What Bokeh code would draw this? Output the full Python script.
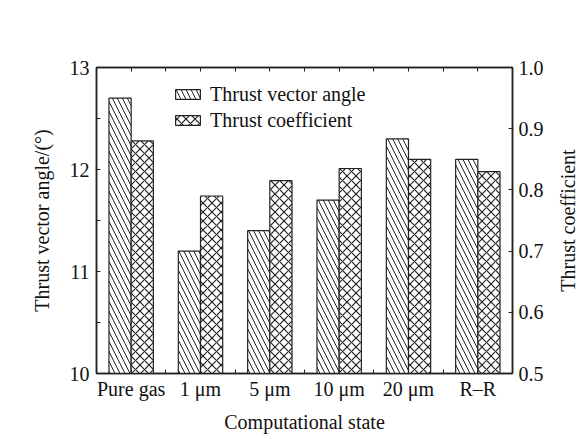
from bokeh.plotting import figure
from bokeh.layouts import row
from bokeh.models import (Range1d, LinearAxis, FixedTicker, NumeralTickFormatter,
                          ColumnDataSource, Legend, LegendItem)
from bokeh.transform import dodge
from bokeh.embed import file_html
from bokeh.resources import INLINE
import numpy as np

categories = ["Pure gas", "1 μm", "5 μm", "10 μm", "20 μm", "R–R"]
thrust_vector_angle = [12.7, 11.2, 11.4, 11.7, 12.3, 12.1]
thrust_coefficient = [0.88, 0.79, 0.815, 0.835, 0.85, 0.83]
left_ticks = [10, 11, 12, 13]
left_minor = [10.5, 11.5, 12.5]
right_ticks = [0.5, 0.6, 0.7, 0.8, 0.9, 1.0]

FONT = "Liberation Serif"
FS = "20px"

x = np.arange(len(categories)) + 0.5
src = ColumnDataSource(dict(x=x, angle=thrust_vector_angle, coef=thrust_coefficient))

p = figure(width=548, height=439, x_range=Range1d(0, len(categories)),
           y_range=Range1d(10, 13), output_backend="svg", toolbar_location=None,
           min_border_left=96, min_border_right=36, min_border_top=67,
           min_border_bottom=66)
p.extra_y_ranges = {"coef": Range1d(0.5, 1.0)}
p.grid.visible = False
p.outline_line_color = "#222222"
p.outline_line_width = 1.5
p.background_fill_color = "white"
p.border_fill_color = "white"

bw = 0.32
r1 = p.vbar(x=dodge("x", -bw / 2, range=p.x_range), top="angle", bottom=10, width=bw,
            source=src, fill_color="white", line_color="#222222", line_width=1.2,
            hatch_pattern="\\", hatch_color="#222222", hatch_scale=10, hatch_weight=1)
r2 = p.vbar(x=dodge("x", bw / 2, range=p.x_range), top="coef", bottom=0.5, width=bw,
            source=src, y_range_name="coef", fill_color="white", line_color="#222222",
            line_width=1.2, hatch_pattern="x", hatch_color="#222222", hatch_scale=9,
            hatch_weight=1.2)

xt = FixedTicker(ticks=list(x), minor_ticks=list(np.arange(len(categories) + 1)))

def style(ax):
    ax.axis_line_color = "#222222"
    ax.axis_line_width = 1.5
    ax.major_tick_in = 4
    ax.major_tick_out = 0
    ax.minor_tick_in = 4
    ax.minor_tick_out = 0
    ax.major_tick_line_color = "#222222"
    ax.minor_tick_line_color = "#222222"
    ax.major_label_text_font = FONT
    ax.major_label_text_font_size = FS
    ax.major_label_text_color = "#111111"
    ax.axis_label_text_font = FONT
    ax.axis_label_text_font_size = FS
    ax.axis_label_text_font_style = "normal"
    ax.axis_label_text_color = "#111111"

xa = p.xaxis[0]
xa.ticker = xt
xa.major_label_overrides = {float(v): c for v, c in zip(x, categories)}
xa.axis_label = "Computational state"
style(xa)
xa.major_label_standoff = 4
xa.axis_label_standoff = 8

ya = p.yaxis[0]
ya.ticker = FixedTicker(ticks=left_ticks, minor_ticks=left_minor)
ya.axis_label = "Thrust vector angle/(°)"
style(ya)
ya.major_label_standoff = 7
ya.axis_label_standoff = 14

ra = LinearAxis(y_range_name="coef", ticker=FixedTicker(ticks=right_ticks, minor_ticks=[]),
                formatter=NumeralTickFormatter(format="0.0"))
style(ra)
ra.major_label_standoff = 6
p.add_layout(ra, "right")

ta = LinearAxis(ticker=xt)
style(ta)
ta.major_label_text_color = None
ta.major_label_text_font_size = "1px"
p.add_layout(ta, "above")

legend = Legend(items=[LegendItem(label="Thrust vector angle", renderers=[r1]),
                       LegendItem(label="Thrust coefficient", renderers=[r2])],
                location=(76, 241), padding=0, margin=0, spacing=2,
                glyph_width=31, glyph_height=12, label_height=24, label_standoff=7,
                label_text_font=FONT, label_text_font_size=FS, label_text_color="#111111",
                background_fill_alpha=0, border_line_color=None)
p.add_layout(legend, "center")

# narrow companion figure carrying the right-hand title, read bottom-to-top
p2 = figure(width=32, height=439, x_range=Range1d(0, 1), y_range=Range1d(0.5, 1.0),
            output_backend="svg", toolbar_location=None, min_border_left=30,
            min_border_right=0, min_border_top=67, min_border_bottom=66)
p2.grid.visible = False
p2.xaxis.visible = False
p2.outline_line_color = None
p2.background_fill_color = "white"
p2.border_fill_color = "white"
a2 = p2.yaxis[0]
a2.ticker = FixedTicker(ticks=[], minor_ticks=[])
a2.axis_label = "Thrust coefficient"
style(a2)
a2.axis_line_color = None
a2.major_tick_line_color = None
a2.minor_tick_line_color = None
a2.major_label_text_color = None
a2.axis_label_standoff = 0

layout = row(p, p2, spacing=0)
open("out.html", "w").write(file_html(layout, INLINE))
